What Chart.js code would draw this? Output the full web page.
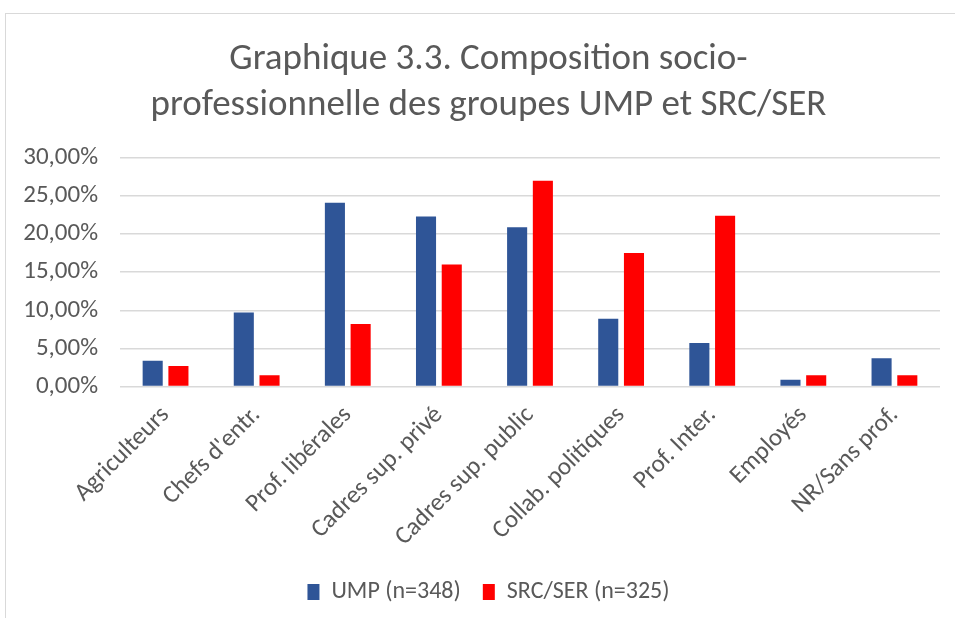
<!DOCTYPE html>
<html>
<head>
<meta charset="utf-8">
<script src="https://cdn.jsdelivr.net/npm/chart.js@4"></script>
<style>
    body { margin: 0; background: #ffffff; }
    #frame {
        position: absolute;
        left: 5px;
        top: 13px;
        width: 1000px;
        height: 650px;
        border: 1.5px solid #d9d9d9;
    }
    #wrap {
        position: absolute;
        left: 0;
        top: 0;
        width: 955px;
        height: 618px;
    }
</style>
</head>
<body>
<div id="frame"></div>
<div id="wrap"><canvas id="chart"></canvas></div>
<script>
const categories = ['Agriculteurs', "Chefs d'entr.", 'Prof. libérales', 'Cadres sup. privé', 'Cadres sup. public',
    'Collab. politiques', 'Prof. Inter.', 'Employés', 'NR/Sans prof.'];
const umpValues = [3.4, 9.7, 24.1, 22.3, 20.9, 8.9, 5.7, 0.9, 3.7];
const srcValues = [2.7, 1.5, 8.2, 16.0, 27.0, 17.5, 22.4, 1.5, 1.5];
const seriesNames = ['UMP (n=348)', 'SRC/SER (n=325)'];
const titleLines = ['Graphique 3.3. Composition socio-', 'professionnelle des groupes UMP et SRC/SER'];

const FONT = "Carlito, Calibri, Lato, 'Noto Sans', sans-serif";
const GREY = '#595959';

function fmt(v) {
    return v.toFixed(2).replace('.', ',') + '%';
}

window.onload = function() {
    const ctx = document.getElementById('chart').getContext('2d');
    new Chart(ctx, {
        type: 'bar',
        data: {
            labels: categories,
            datasets: [{
                label: seriesNames[0],
                data: umpValues,
                backgroundColor: '#2F5597'
            }, {
                label: seriesNames[1],
                data: srcValues,
                backgroundColor: '#FF0000'
            }]
        },
        options: {
            responsive: true,
            maintainAspectRatio: false,
            animation: false,
            categoryPercentage: 0.565,
            barPercentage: 0.78,
            layout: {
                padding: { left: 22, right: 0, top: 37, bottom: 4 }
            },
            scales: {
                x: {
                    grid: { display: false },
                    border: { display: false },
                    ticks: {
                        color: GREY,
                        font: { family: FONT, size: 25 },
                        minRotation: 45,
                        maxRotation: 45,
                        padding: 6
                    }
                },
                y: {
                    min: 0,
                    max: 30,
                    border: { display: false },
                    grid: {
                        color: '#d9d9d9',
                        lineWidth: 1.5,
                        drawTicks: false
                    },
                    ticks: {
                        stepSize: 5,
                        color: GREY,
                        font: { family: FONT, size: 25 },
                        padding: 22,
                        callback: function(value) { return fmt(value); }
                    },
                    afterFit: function(axis) {
                        axis.width = 98; // plot starts at x=120 like the original
                    }
                },
                // empty right margin so the plot ends at x=940
                yRight: {
                    position: 'right',
                    display: true,
                    grid: { display: false },
                    border: { display: false },
                    ticks: { display: false },
                    afterFit: function(axis) {
                        axis.width = 15;
                    }
                }
            },
            plugins: {
                title: {
                    display: true,
                    text: titleLines,
                    color: GREY,
                    font: { family: FONT, size: 37, weight: 'normal', lineHeight: 1.24 },
                    padding: { top: 0, bottom: 29 }
                },
                legend: {
                    position: 'bottom',
                    labels: {
                        color: GREY,
                        font: { family: FONT, size: 24 },
                        boxWidth: 12,
                        boxHeight: 16,
                        padding: 22
                    }
                },
                tooltip: { enabled: false }
            }
        }
    });
};
</script>
</body>
</html>
